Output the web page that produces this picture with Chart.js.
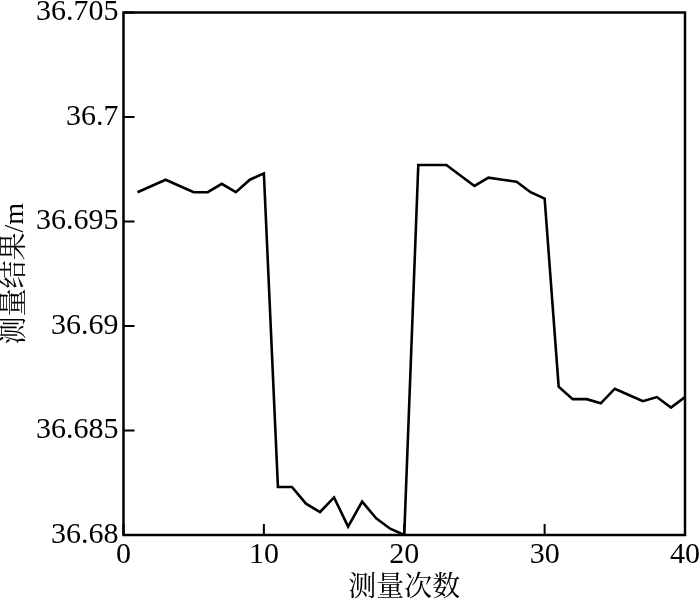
<!DOCTYPE html>
<html>
<head>
<meta charset="utf-8">
<script src="https://cdn.jsdelivr.net/npm/chart.js@4/dist/chart.umd.min.js"></script>
<style>
  html, body { margin: 0; padding: 0; background: #fff; }
  canvas { display: block; }
</style>
</head>
<body>
<canvas id="c" width="700" height="603"></canvas>
<script>
// measurement index (x) and measured result in metres (y)
const runs = [1, 2, 3, 4, 5, 6, 7, 8, 9, 10,
  11, 12, 13, 14, 15, 16, 17, 18, 19, 20,
  21, 22, 23, 24, 25, 26, 27, 28, 29, 30,
  31, 32, 33, 34, 35, 36, 37, 38, 39, 40];
const results = [36.6964, 36.6967, 36.6970, 36.6967, 36.6964, 36.6964, 36.6968, 36.6964, 36.6970, 36.6973,
  36.6823, 36.6823, 36.6815, 36.6811, 36.6818, 36.6804, 36.6816, 36.6808, 36.6803, 36.6800,
  36.6977, 36.6977, 36.6977, 36.6972, 36.6967, 36.6971, 36.6970, 36.6969, 36.6964, 36.6961,
  36.6871, 36.6865, 36.6865, 36.6863, 36.6870, 36.6867, 36.6864, 36.6866, 36.6861, 36.6866];

const xTicks = [0, 10, 20, 30, 40];
const yTicks = [36.68, 36.685, 36.69, 36.695, 36.7, 36.705];

const xTitle = '测量次数';
const yTitle = '测量结果/m';

const SERIF = 'Liberation Serif, Noto Serif CJK SC, Noto Sans CJK SC, serif';

// box frame + inward tick marks on left and bottom
const frame = {
  id: 'frame',
  afterDraw(chart) {
    const { ctx, chartArea: a, scales } = chart;
    ctx.save();
    ctx.strokeStyle = '#000';
    ctx.lineWidth = 2.5;
    ctx.strokeRect(a.left, a.top, a.right - a.left, a.bottom - a.top);
    ctx.lineWidth = 2;
    ctx.beginPath();
    scales.x.ticks.forEach(t => {
      const px = scales.x.getPixelForValue(t.value);
      ctx.moveTo(px, a.bottom);
      ctx.lineTo(px, a.bottom - 11);
    });
    scales.y.ticks.forEach(t => {
      const py = scales.y.getPixelForValue(t.value);
      ctx.moveTo(a.left, py);
      ctx.lineTo(a.left + 11, py);
    });
    ctx.stroke();
    ctx.restore();
  }
};

new Chart(document.getElementById('c'), {
  type: 'line',
  data: {
    datasets: [{
      data: runs.map((r, i) => ({ x: r, y: results[i] })),
      borderColor: '#000',
      borderWidth: 2.6,
      pointRadius: 0,
      tension: 0,
      fill: false
    }]
  },
  options: {
    responsive: false,
    animation: false,
    layout: { padding: { left: 0, right: 15, top: 0, bottom: 0 } },
    plugins: { legend: { display: false }, tooltip: { enabled: false } },
    scales: {
      x: {
        type: 'linear',
        min: 0, max: 40,
        afterBuildTicks: s => { s.ticks = xTicks.map(v => ({ value: v })); },
        // let the last label run into the right margin like the original
        afterFit: s => { s.paddingRight = 0; },
        grid: { display: false, drawTicks: false },
        border: { display: false },
        ticks: {
          color: '#000', padding: 11, maxRotation: 0,
          font: { family: SERIF, size: 30, lineHeight: 0.6 },
          callback: v => String(v)
        },
        title: {
          display: true, text: xTitle, color: '#000',
          font: { family: SERIF, size: 28, lineHeight: 1.0 },
          padding: { top: 0, bottom: 0 }
        }
      },
      y: {
        type: 'linear',
        min: 36.68, max: 36.705,
        afterBuildTicks: s => { s.ticks = yTicks.map(v => ({ value: v })); },
        grid: { display: false, drawTicks: false },
        border: { display: false },
        ticks: {
          color: '#000', padding: 5,
          font: { family: SERIF, size: 30, lineHeight: 0.5 },
          callback: v => String(v)
        },
        title: {
          display: true, text: yTitle, color: '#000',
          font: { family: SERIF, size: 28, lineHeight: 1.0 },
          padding: { top: 2, bottom: 1 }
        }
      }
    }
  },
  plugins: [frame]
});
</script>
</body>
</html>
